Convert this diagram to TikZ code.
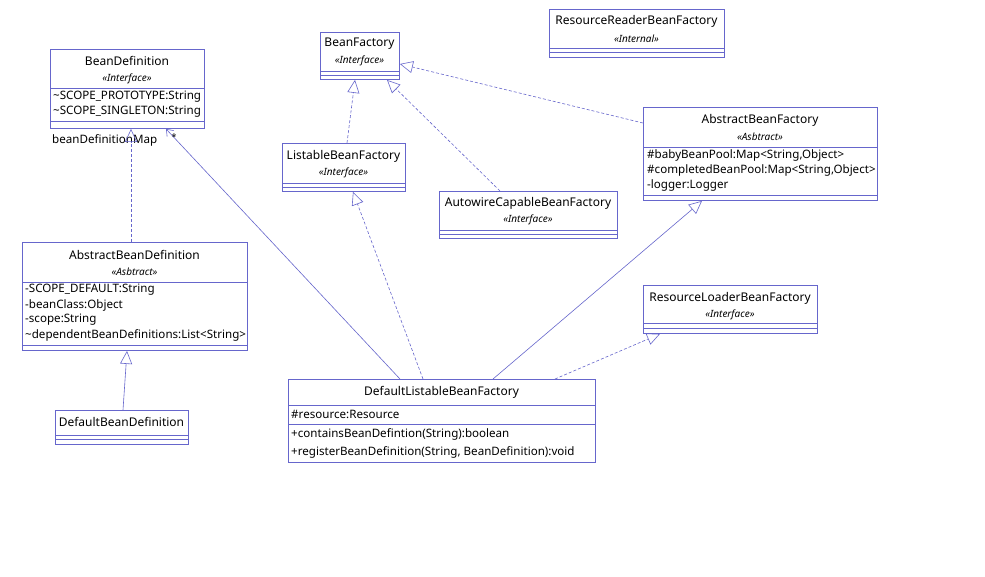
\documentclass[tikz,border=0pt]{standalone}
\usepackage{fontspec}
\setmainfont{Noto Sans}
\usetikzlibrary{arrows.meta}
\definecolor{uml}{RGB}{102,102,204}
\begin{document}
\begin{tikzpicture}[x=1pt,y=-1pt,
  box/.style={draw=uml, line width=0.9pt, inner sep=0pt, anchor=north west},
  nm/.style={font=\fontsize{12}{14}\selectfont, inner sep=0pt, anchor=center},
  st/.style={font=\fontsize{10}{12}\selectfont\itshape, inner sep=0pt, anchor=center},
  attr/.style={font=\fontsize{11.6}{14}\selectfont, inner sep=0pt, anchor=west},
  sep/.style={draw=uml, line width=0.9pt},
  real/.style={draw=uml, line width=0.6pt, dash pattern=on 3pt off 2pt, -{Triangle[open, length=13pt, width=12pt]}},
  gen/.style={draw=uml, line width=0.6pt, -{Triangle[open, length=13pt, width=12pt]}},
  assoc/.style={draw=uml, line width=0.6pt, -{Straight Barb[length=6pt, width=9pt]}}
]
\useasboundingbox (0,0) rectangle (985,576);
\fill[white] (0,0) rectangle (985,576);

% BeanDefinition
\node[box, minimum width=154pt, minimum height=79pt] (bd) at (50,49) {};
\node[nm] (bdn) at (127,61) {BeanDefinition};
\node[st] (bds) at (127,79) {«Interface»};
\draw[sep] (50,88) -- (204,88);
\node[attr] (bda1) at (53,97) {\textasciitilde SCOPE\_PROTOTYPE:String};
\node[attr] (bda2) at (53,112) {\textasciitilde SCOPE\_SINGLETON:String};
\draw[sep] (50,121) -- (204,121);
\node[attr] (bdlab) at (52,140) {beanDefinitionMap};

% BeanFactory
\node[box, minimum width=79pt, minimum height=47pt] (bf) at (320,32) {};
\node[nm] (bfn) at (359.5,44) {BeanFactory};
\node[st] (bfs) at (359.5,61) {«Interface»};
\draw[sep] (320,71) -- (399,71);
\draw[sep] (320,75) -- (399,75);

% ResourceReaderBeanFactory
\node[box, minimum width=175pt, minimum height=48pt] (rrbf) at (549,9) {};
\node[nm] (rrbfn) at (636.5,21) {ResourceReaderBeanFactory};
\node[st] (rrbfs) at (636.5,39) {«Internal»};
\draw[sep] (549,48) -- (724,48);
\draw[sep] (549,52) -- (724,52);

% AbstractBeanFactory
\node[box, minimum width=234pt, minimum height=93pt] (abf) at (643,107) {};
\node[nm] (abfn) at (760,120) {AbstractBeanFactory};
\node[st] (abfs) at (760,137) {«Asbtract»};
\draw[sep] (643,147) -- (877,147);
\node[attr] (abfa1) at (647,155) {\#babyBeanPool:Map<String,Object>};
\node[attr] (abfa2) at (647,170) {\#completedBeanPool:Map<String,Object>};
\node[attr] (abfa3) at (647,185) {-logger:Logger};
\draw[sep] (643,195) -- (877,195);

% ListableBeanFactory
\node[box, minimum width=123pt, minimum height=48pt] (lbf) at (282,143) {};
\node[nm] (lbfn) at (343.5,156) {ListableBeanFactory};
\node[st] (lbfs) at (343.5,173) {«Interface»};
\draw[sep] (282,183) -- (405,183);
\draw[sep] (282,187) -- (405,187);

% AutowireCapableBeanFactory
\node[box, minimum width=178pt, minimum height=47pt] (acbf) at (439,191) {};
\node[nm] (acbfn) at (528,203) {AutowireCapableBeanFactory};
\node[st] (acbfs) at (528,220) {«Interface»};
\draw[sep] (439,230) -- (617,230);
\draw[sep] (439,234) -- (617,234);

% AbstractBeanDefinition
\node[box, minimum width=225pt, minimum height=108pt] (abd) at (22,242) {};
\node[nm] (abdn) at (134.5,255) {AbstractBeanDefinition};
\node[st] (abds) at (134.5,272) {«Asbtract»};
\draw[sep] (22,282) -- (247,282);
\node[attr] (abda1) at (25,290) {-SCOPE\_DEFAULT:String};
\node[attr] (abda2) at (25,305) {-beanClass:Object};
\node[attr] (abda3) at (25,320) {-scope:String};
\node[attr] (abda4) at (25,335) {\textasciitilde dependentBeanDefinitions:List<String>};
\draw[sep] (22,345) -- (247,345);

% DefaultBeanDefinition
\node[box, minimum width=133pt, minimum height=34pt] (dbd) at (55,410) {};
\node[nm] (dbdn) at (121.5,422) {DefaultBeanDefinition};
\draw[sep] (55,435) -- (188,435);
\draw[sep] (55,439) -- (188,439);

% DefaultListableBeanFactory
\node[box, minimum width=307pt, minimum height=83pt] (dlbf) at (288,379) {};
\node[nm] (dlbfn) at (441.5,392) {DefaultListableBeanFactory};
\draw[sep] (288,405) -- (595,405);
\node[attr] (dlbfa1) at (291,414) {\#resource:Resource};
\draw[sep] (288,424) -- (595,424);
\node[attr] (dlbfm1) at (291,434) {+containsBeanDefintion(String):boolean};
\node[attr] (dlbfm2) at (291,452) {+registerBeanDefinition(String, BeanDefinition):void};

% ResourceLoaderBeanFactory
\node[box, minimum width=174pt, minimum height=48pt] (rlbf) at (643,285) {};
\node[nm] (rlbfn) at (730,298) {ResourceLoaderBeanFactory};
\node[st] (rlbfs) at (730,315) {«Interface»};
\draw[sep] (643,323) -- (817,323);
\draw[sep] (643,328) -- (817,328);

% connectors
\draw[real] ([xshift=109pt]abd.north west) -- ([xshift=81pt]bd.south west);
\draw[gen] ([xshift=68pt]dbd.north west) -- ([xshift=105pt]abd.south west);
\draw[assoc] ([xshift=112pt]dlbf.north west) -- ([xshift=116pt]bd.south west);
\node[font=\fontsize{9}{10}\selectfont, inner sep=0pt] (star) at (174,137) {*};
\draw[real] ([xshift=135pt]dlbf.north west) -- ([xshift=71pt]lbf.south west);
\draw[gen] ([xshift=205pt]dlbf.north west) -- ([xshift=59pt]abf.south west);
\draw[real] ([xshift=267pt]dlbf.north west) -- ([xshift=17pt]rlbf.south west);
\draw[real] ([xshift=65pt]lbf.north west) -- ([xshift=35pt]bf.south west);
\draw[real] ([xshift=61pt]acbf.north west) -- ([xshift=67pt]bf.south west);
\draw[real] ([yshift=-16pt]abf.north west) -- ([yshift=-32pt]bf.north east);
\end{tikzpicture}
\end{document}
